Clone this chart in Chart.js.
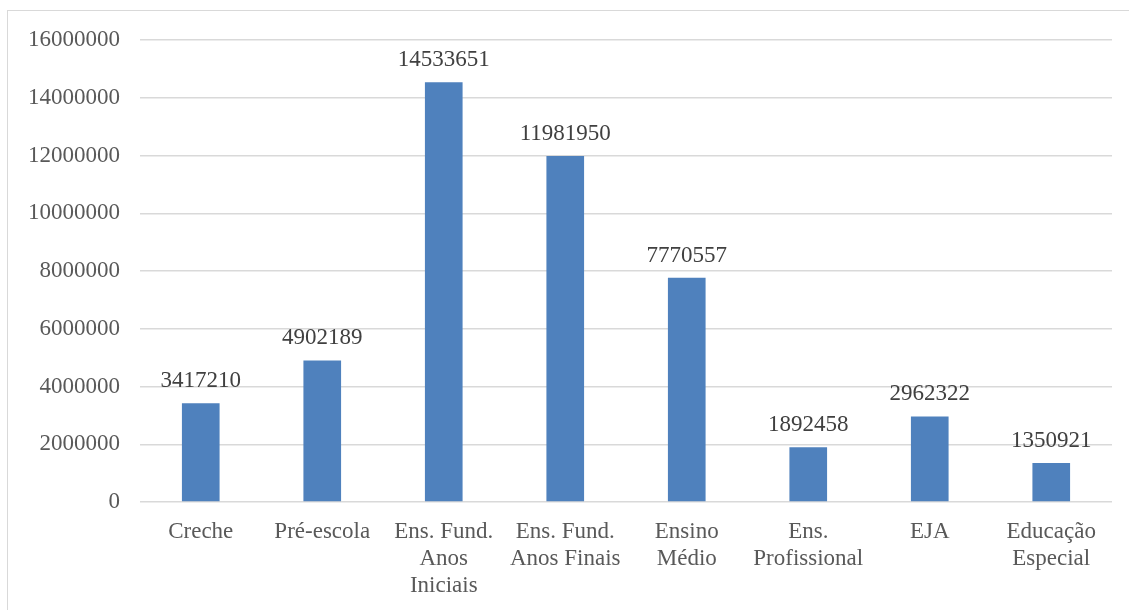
<!DOCTYPE html>
<html>
<head>
<meta charset="utf-8">
<script src="https://cdn.jsdelivr.net/npm/chart.js@4/dist/chart.umd.min.js"></script>
<style>
  html, body { margin: 0; padding: 0; background: #fff; }
  #wrap { position: absolute; left: 0; top: 0; width: 1129px; height: 610px; }
  #frame { position: absolute; left: 7px; top: 10px; width: 1140px; height: 620px; border: 1px solid #d9d9d9; box-sizing: border-box; }
</style>
</head>
<body>
<div id="frame"></div>
<div id="wrap"><canvas id="chart"></canvas></div>
<script>
"use strict";

const categories = [
  "Creche",
  "Pré-escola",
  ["Ens. Fund.", "Anos", "Iniciais"],
  ["Ens. Fund.", "Anos Finais"],
  ["Ensino", "Médio"],
  ["Ens.", "Profissional"],
  "EJA",
  ["Educação", "Especial"],
];
const matriculas = [3417210, 4902189, 14533651, 11981950, 7770557, 1892458, 2962322, 1350921];
const yMax = 16000000;
const yStep = 2000000;

const textColor = "#595959";
const gridColor = "#d9d9d9";
const barColor = "#4f81bd";
const fontFamily = "'Liberation Serif', 'Times New Roman', serif";

// value labels over each bar
const valueLabels = {
  id: "valueLabels",
  afterDatasetsDraw(chart) {
    const ctx = chart.ctx;
    const meta = chart.getDatasetMeta(0);
    ctx.save();
    ctx.font = "23px " + fontFamily;
    ctx.fillStyle = "#404040";
    ctx.textAlign = "center";
    ctx.textBaseline = "alphabetic";
    meta.data.forEach((bar, i) => {
      ctx.fillText(String(matriculas[i]), bar.x, bar.y - 16);
    });
    ctx.restore();
  },
};

const ctx = document.getElementById("chart").getContext("2d");
new Chart(ctx, {
  type: "bar",
  data: {
    labels: categories,
    datasets: [
      {
        data: matriculas,
        backgroundColor: barColor,
        borderWidth: 0,
        barPercentage: 0.62,
        categoryPercentage: 0.5,
      },
    ],
  },
  options: {
    responsive: true,
    maintainAspectRatio: false,
    animation: false,
    layout: { padding: { top: 40, right: 17, bottom: 0, left: 0 } },
    plugins: {
      legend: { display: false },
      tooltip: { enabled: false },
    },
    scales: {
      x: {
        grid: { display: false },
        border: { display: false },
        ticks: {
          color: textColor,
          font: { family: fontFamily, size: 23, lineHeight: 1.18 },
          maxRotation: 0,
          autoSkip: false,
          padding: 8,
        },
        afterFit: (s) => { s.height = 108; },
      },
      y: {
        min: 0,
        max: yMax,
        grid: { color: gridColor, lineWidth: 1.5, drawTicks: false },
        border: { display: false },
        ticks: {
          stepSize: yStep,
          color: textColor,
          font: { family: fontFamily, size: 23 },
          padding: 20,
          callback: (v) => String(v),
        },
        afterFit: (s) => { s.width = 140; },
      },
    },
  },
  plugins: [valueLabels],
});
</script>
</body>
</html>
